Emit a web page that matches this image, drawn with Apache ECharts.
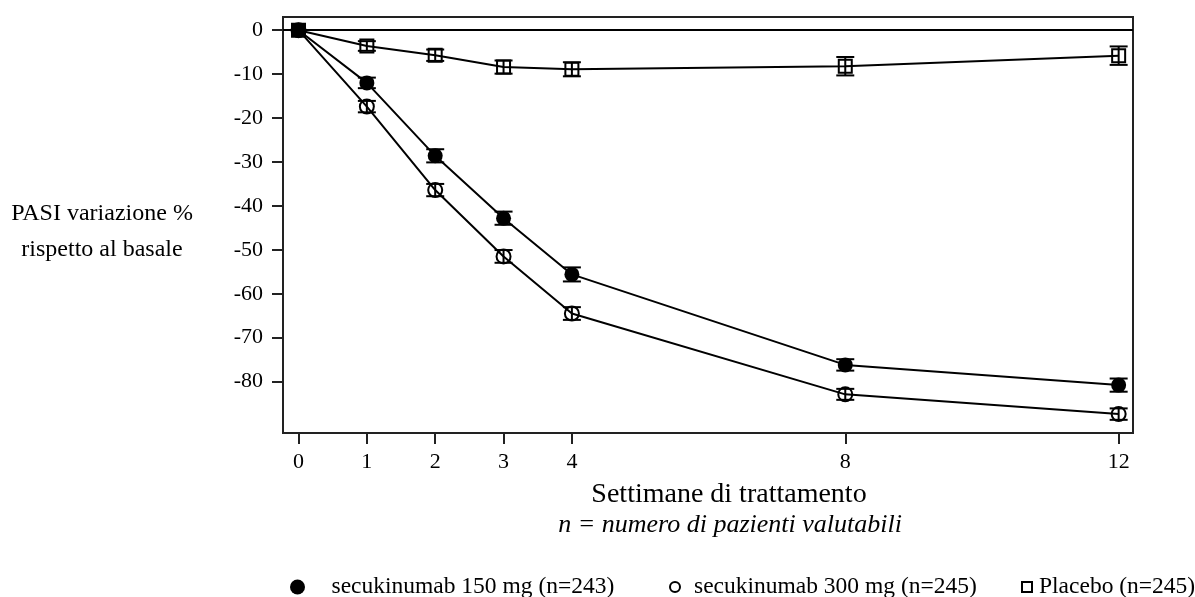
<!DOCTYPE html>
<html>
<head>
<meta charset="utf-8">
<script src="https://cdn.jsdelivr.net/npm/echarts@6/dist/echarts.min.js"></script>
<style>
html,body{margin:0;padding:0;background:#fff;}
#chart{width:1195px;height:597px;}
</style>
</head>
<body>
<div id="chart"></div>
<script>
// ---- data ----
const weeks = [0, 1, 2, 3, 4, 8, 12];
const xTicks = [0, 1, 2, 3, 4, 8, 12];
const yTicks = [0, -10, -20, -30, -40, -50, -60, -70, -80];
const sec150 = [0, -12.0, -28.6, -42.8, -55.6, -76.2, -80.8];
const sec150Err = [0, 1.2, 1.5, 1.5, 1.6, 1.3, 1.5];
const sec300 = [0, -17.4, -36.4, -51.5, -64.5, -82.9, -87.4];
const sec300Err = [0, 1.3, 1.4, 1.45, 1.45, 1.25, 1.3];
const placebo = [0, -3.6, -5.7, -8.4, -8.9, -8.2, -5.8];
const placeboErr = [0, 1.1, 1.3, 1.5, 1.6, 2.1, 2.1];
const names = ['secukinumab 150 mg (n=243)', 'secukinumab 300 mg (n=245)', 'Placebo (n=245)'];
const yTitle = 'PASI variazione %\nrispetto al basale';
const xTitle = 'Settimane di trattamento';
const xSubtitle = 'n = numero di pazienti valutabili';

const FONT = '"Liberation Serif", "Times New Roman", serif';
const chart = echarts.init(document.getElementById('chart'));

function pts(vals) { return weeks.map((w, i) => [w, vals[i]]); }
function errData(vals, errs) { return weeks.map((w, i) => [w, vals[i] - errs[i], vals[i] + errs[i]]); }

function errSeries(vals, errs) {
  return {
    type: 'custom',
    z: 2,
    silent: true,
    data: errData(vals, errs),
    encode: { x: 0, y: [1, 2] },
    renderItem: function (params, api) {
      const x = api.value(0);
      const lo = api.value(1), hi = api.value(2);
      if (hi - lo <= 0) return null;
      const p1 = api.coord([x, lo]);
      const p2 = api.coord([x, hi]);
      const hw = 9;
      const st = { stroke: '#000', lineWidth: 2 };
      return {
        type: 'group',
        children: [
          { type: 'line', shape: { x1: p1[0], y1: p1[1], x2: p2[0], y2: p2[1] }, style: st },
          { type: 'line', shape: { x1: p1[0] - hw, y1: p1[1], x2: p1[0] + hw, y2: p1[1] }, style: st },
          { type: 'line', shape: { x1: p2[0] - hw, y1: p2[1], x2: p2[0] + hw, y2: p2[1] }, style: st }
        ]
      };
    }
  };
}

const placeboData = pts(placebo).map((d, i) => i === 0 ? { value: d, itemStyle: { color: '#000' } } : d);

const legendBase = {
  orient: 'horizontal',
  top: 570,
  symbolKeepAspect: true,
  selectedMode: false
};
function legText(pad) {
  return { fontFamily: FONT, fontSize: 23.5, color: '#000', padding: [0, 0, 0, pad] };
}

const option = {
  animation: false,
  backgroundColor: '#fff',
  grid: { left: 283, top: 17, right: 62, bottom: 164, show: true, borderColor: '#222', borderWidth: 2, containLabel: false },
  xAxis: {
    type: 'value', min: -0.227, max: 12.21,
    axisLine: { show: true, onZero: false, lineStyle: { color: '#222', width: 2 } },
    axisTick: { show: true, customValues: xTicks, length: 11, lineStyle: { color: '#222', width: 2 } },
    axisLabel: { customValues: xTicks, margin: 18, fontFamily: FONT, fontSize: 22, color: '#000' },
    splitLine: { show: false }
  },
  yAxis: {
    type: 'value', min: -91.7, max: 3,
    axisLine: { show: true, onZero: false, lineStyle: { color: '#222', width: 2 } },
    axisTick: { show: true, customValues: yTicks, length: 11, lineStyle: { color: '#222', width: 2 } },
    axisLabel: { customValues: yTicks, margin: 20, fontFamily: FONT, fontSize: 22, color: '#000' },
    splitLine: { show: false }
  },
  legend: [
    Object.assign({}, legendBase, { left: 285, itemWidth: 30, itemHeight: 15, textStyle: legText(14),
      data: [{ name: names[0], icon: 'circle', itemStyle: { color: '#000' } }] }),
    Object.assign({}, legendBase, { left: 664, itemWidth: 10, itemHeight: 10, textStyle: legText(9),
      data: [{ name: names[1], icon: 'circle', itemStyle: { color: '#fff', borderColor: '#000', borderWidth: 2 } }] }),
    Object.assign({}, legendBase, { left: 1016, itemWidth: 10, itemHeight: 10, textStyle: legText(2),
      data: [{ name: names[2], icon: 'rect', itemStyle: { color: '#fff', borderColor: '#000', borderWidth: 2 } }] })
  ],
  graphic: [
    { type: 'text', style: { text: yTitle, x: 102, y: 232, align: 'center', verticalAlign: 'middle', font: '24px ' + FONT, lineHeight: 36, fill: '#000' } },
    { type: 'text', style: { text: xTitle, x: 729, y: 495, align: 'center', verticalAlign: 'middle', font: '28px ' + FONT, fill: '#000' } },
    { type: 'text', style: { text: xSubtitle, x: 730, y: 525, align: 'center', verticalAlign: 'middle', font: 'italic 26px ' + FONT, fill: '#000' } }
  ],
  series: [
    errSeries(sec150, sec150Err),
    errSeries(sec300, sec300Err),
    errSeries(placebo, placeboErr),
    {
      name: names[0], type: 'line', z: 3, data: pts(sec150),
      symbol: 'circle', symbolSize: 15,
      itemStyle: { color: '#000' },
      lineStyle: { color: '#000', width: 2 }
    },
    {
      name: names[1], type: 'line', z: 3, data: pts(sec300),
      symbol: 'circle', symbolSize: 14,
      itemStyle: { color: 'rgba(0,0,0,0)', borderColor: '#000', borderWidth: 2 },
      lineStyle: { color: '#000', width: 2 }
    },
    {
      name: names[2], type: 'line', z: 4, data: placeboData,
      symbol: 'rect', symbolSize: 13,
      itemStyle: { color: 'rgba(0,0,0,0)', borderColor: '#000', borderWidth: 2 },
      lineStyle: { color: '#000', width: 2 },
      markLine: {
        silent: true, symbol: ['none', 'none'], label: { show: false },
        lineStyle: { color: '#000', width: 2, type: 'solid' },
        data: [{ yAxis: 0 }]
      }
    }
  ]
};
chart.setOption(option);
</script>
</body>
</html>
